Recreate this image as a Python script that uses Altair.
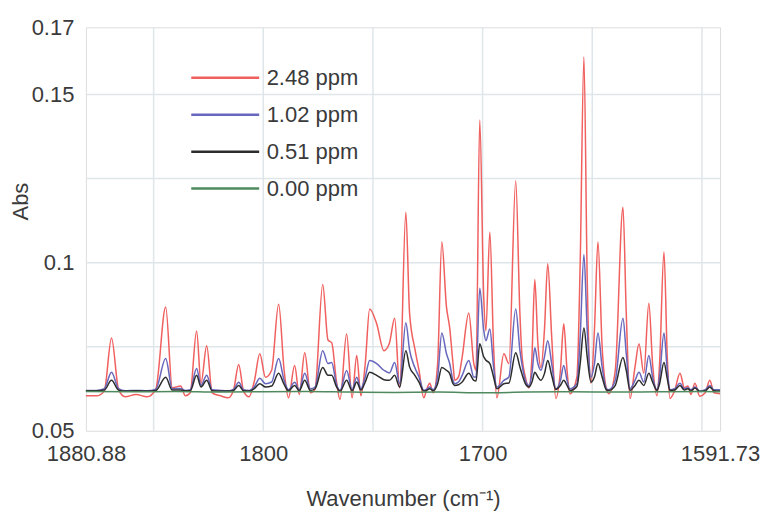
import altair as alt
import pandas as pd

# Wavenumber (cm-1) vertices, left (high) to right (low)
wavenumber = [
    1880.88, 1876.0, 1872.5, 1869.2, 1866.0, 1863.0, 1858.0, 1853.0, 1849.0, 1844.5,
    1841.5, 1837.7, 1835.5, 1833.3, 1830.4, 1828.4, 1825.8, 1823.3, 1819.5, 1816.0,
    1813.5, 1811.2, 1809.0, 1806.5, 1804.0, 1801.6, 1799.0, 1796.2, 1793.0, 1790.5,
    1788.5, 1785.7, 1783.6, 1781.1, 1778.5, 1776.4, 1772.9, 1770.5, 1768.8, 1766.7,
    1765.0, 1762.0, 1759.5, 1757.4, 1755.5, 1753.5, 1751.5, 1748.3, 1745.0, 1742.5,
    1740.1, 1737.8, 1735.0, 1733.3, 1730.9, 1729.0, 1726.8, 1725.5, 1724.1, 1722.5,
    1720.5, 1718.6, 1716.5, 1715.0, 1713.5, 1712.7, 1711.0, 1709.3, 1706.3, 1704.0,
    1703.0, 1701.3, 1699.5, 1698.5, 1696.7, 1695.0, 1693.5, 1690.3, 1688.0, 1684.9,
    1683.0, 1682.1, 1680.5, 1678.9, 1677.5, 1676.2, 1674.8, 1673.4, 1671.8, 1670.3,
    1668.5, 1666.6, 1664.5, 1663.0, 1661.5, 1660.2, 1657.0, 1655.5, 1653.8, 1652.3,
    1650.6, 1649.0, 1647.4, 1645.5, 1643.5, 1642.4, 1639.5, 1636.0, 1634.5, 1632.8,
    1630.5, 1628.7, 1626.5, 1624.2, 1622.5, 1620.5, 1619.3, 1617.3, 1615.8, 1614.6,
    1612.5, 1610.0, 1608.0, 1606.4, 1605.0, 1603.2, 1601.0, 1598.5, 1596.4, 1594.5,
    1591.73,
]

abs_248 = [
    0.0604, 0.0604, 0.0618, 0.0776, 0.0623, 0.0601, 0.0608, 0.0601, 0.0624, 0.0868,
    0.0628, 0.0633, 0.0604, 0.0613, 0.0797, 0.0641, 0.0753, 0.0613, 0.0604, 0.0598,
    0.0623, 0.0697, 0.0618, 0.0601, 0.0650, 0.0729, 0.0659, 0.0680, 0.0876, 0.0680,
    0.0598, 0.0694, 0.0608, 0.0732, 0.0613, 0.0624, 0.0935, 0.0770, 0.0762, 0.0650,
    0.0593, 0.0788, 0.0598, 0.0724, 0.0604, 0.0700, 0.0862, 0.0818, 0.0738, 0.0760,
    0.0835, 0.0627, 0.1150, 0.0850, 0.0744, 0.0680, 0.0598, 0.0623, 0.0641, 0.0613,
    0.0700, 0.1062, 0.0870, 0.0806, 0.0700, 0.0650, 0.0660, 0.0720, 0.0850, 0.0700,
    0.0680, 0.1424, 0.0900, 0.0797, 0.1091, 0.0750, 0.0598, 0.0729, 0.0700, 0.1244,
    0.0850, 0.0729, 0.0660, 0.0627, 0.0720, 0.0950, 0.0760, 0.0688, 0.0800, 0.0997,
    0.0780, 0.0596, 0.0680, 0.0818, 0.0680, 0.0610, 0.0660, 0.1000, 0.1612, 0.0950,
    0.0641, 0.0800, 0.1062, 0.0750, 0.0623, 0.0610, 0.0680, 0.1165, 0.0850, 0.0596,
    0.0690, 0.0759, 0.0671, 0.0879, 0.0700, 0.0604, 0.0700, 0.1032, 0.0720, 0.0596,
    0.0618, 0.0671, 0.0628, 0.0633, 0.0608, 0.0641, 0.0603, 0.0613, 0.0650, 0.0613,
    0.0610,
]

abs_102 = [
    0.0620, 0.0620, 0.0625, 0.0674, 0.0625, 0.0619, 0.0620, 0.0619, 0.0624, 0.0715,
    0.0625, 0.0626, 0.0620, 0.0622, 0.0685, 0.0635, 0.0665, 0.0622, 0.0620, 0.0619,
    0.0624, 0.0644, 0.0622, 0.0620, 0.0632, 0.0656, 0.0640, 0.0645, 0.0715, 0.0650,
    0.0622, 0.0644, 0.0622, 0.0671, 0.0625, 0.0630, 0.0738, 0.0700, 0.0703, 0.0640,
    0.0620, 0.0679, 0.0622, 0.0659, 0.0625, 0.0660, 0.0709, 0.0700, 0.0680, 0.0672,
    0.0703, 0.0640, 0.0821, 0.0740, 0.0688, 0.0660, 0.0620, 0.0624, 0.0630, 0.0622,
    0.0660, 0.0791, 0.0730, 0.0700, 0.0650, 0.0640, 0.0645, 0.0665, 0.0709, 0.0660,
    0.0660, 0.0924, 0.0800, 0.0768, 0.0803, 0.0690, 0.0630, 0.0650, 0.0660, 0.0862,
    0.0740, 0.0700, 0.0650, 0.0635, 0.0670, 0.0747, 0.0700, 0.0680, 0.0720, 0.0768,
    0.0700, 0.0625, 0.0650, 0.0694, 0.0650, 0.0625, 0.0640, 0.0780, 0.1024, 0.0800,
    0.0659, 0.0700, 0.0791, 0.0690, 0.0625, 0.0622, 0.0650, 0.0835, 0.0730, 0.0625,
    0.0650, 0.0674, 0.0645, 0.0724, 0.0660, 0.0622, 0.0660, 0.0791, 0.0680, 0.0622,
    0.0625, 0.0641, 0.0625, 0.0628, 0.0622, 0.0630, 0.0618, 0.0622, 0.0635, 0.0622,
    0.0622,
]

abs_051 = [
    0.0619, 0.0619, 0.0621, 0.0650, 0.0621, 0.0618, 0.0619, 0.0618, 0.0620, 0.0659,
    0.0621, 0.0621, 0.0619, 0.0619, 0.0665, 0.0630, 0.0650, 0.0619, 0.0618, 0.0618,
    0.0620, 0.0635, 0.0619, 0.0618, 0.0626, 0.0640, 0.0630, 0.0633, 0.0671, 0.0638,
    0.0619, 0.0635, 0.0619, 0.0650, 0.0620, 0.0625, 0.0688, 0.0665, 0.0665, 0.0632,
    0.0618, 0.0650, 0.0619, 0.0645, 0.0621, 0.0645, 0.0674, 0.0665, 0.0652, 0.0650,
    0.0665, 0.0630, 0.0738, 0.0690, 0.0665, 0.0645, 0.0618, 0.0620, 0.0625, 0.0619,
    0.0640, 0.0688, 0.0680, 0.0670, 0.0640, 0.0635, 0.0637, 0.0645, 0.0671, 0.0650,
    0.0648, 0.0759, 0.0720, 0.0710, 0.0700, 0.0660, 0.0625, 0.0640, 0.0642, 0.0732,
    0.0690, 0.0670, 0.0640, 0.0630, 0.0645, 0.0674, 0.0660, 0.0650, 0.0670, 0.0709,
    0.0665, 0.0623, 0.0635, 0.0650, 0.0635, 0.0620, 0.0632, 0.0700, 0.0806, 0.0720,
    0.0645, 0.0660, 0.0700, 0.0660, 0.0621, 0.0620, 0.0635, 0.0718, 0.0680, 0.0620,
    0.0635, 0.0650, 0.0635, 0.0671, 0.0645, 0.0620, 0.0640, 0.0703, 0.0655, 0.0620,
    0.0621, 0.0635, 0.0621, 0.0625, 0.0619, 0.0627, 0.0617, 0.0619, 0.0630, 0.0619,
    0.0618,
]

green_wavenumber = [1880.88, 1860.0, 1840.0, 1820.0, 1800.0, 1780.0, 1760.0, 1740.0,
                    1720.0, 1700.0, 1680.0, 1660.0, 1640.0, 1620.0, 1600.0, 1591.73]
abs_000 = [0.0617, 0.0616, 0.0617, 0.0615, 0.0616, 0.0617, 0.0615, 0.0614,
           0.0615, 0.0613, 0.0615, 0.0616, 0.0615, 0.0616, 0.0617, 0.0616]

series = ["2.48 ppm", "1.02 ppm", "0.51 ppm", "0.00 ppm"]
colors = ["#f0605f", "#6767bd", "#2c2c2c", "#4e8a5d"]

x_ticks = [1880.88, 1800, 1700, 1591.73]
y_ticks = [0.05, 0.1, 0.15, 0.17]
x_grid = [1850, 1800, 1750, 1700, 1650, 1600]
y_grid = [0.075, 0.1, 0.125, 0.15]

frames = [
    pd.DataFrame({"wn": wavenumber, "abs": abs_248, "series": series[0]}),
    pd.DataFrame({"wn": wavenumber, "abs": abs_102, "series": series[1]}),
    pd.DataFrame({"wn": wavenumber, "abs": abs_051, "series": series[2]}),
    pd.DataFrame({"wn": green_wavenumber, "abs": abs_000, "series": series[3]}),
]
df = pd.concat(frames, ignore_index=True)

FONT = "Liberation Sans"
TXT = "#3a3a3a"
xscale = alt.Scale(domain=[1591.73, 1880.88], reverse=True, nice=False, zero=False)
yscale = alt.Scale(domain=[0.05, 0.17], nice=False, zero=False)

x_axis = alt.Axis(values=x_ticks, labelExpr="datum.value + ''",
                  title="Wavenumber (cm⁻¹)",
                  grid=False, ticks=False, domain=False,
                  labelFontSize=22, labelColor=TXT, labelFont=FONT,
                  labelPadding=13, labelOverlap=False, labelBound=False,
                  labelFlush=False,
                  titleFont=FONT, titleFontSize=22, titleFontWeight="normal",
                  titleColor=TXT, titleY=68, titleBaseline="middle")
y_axis = alt.Axis(values=y_ticks, labelExpr="datum.value + ''", title="Abs",
                  grid=False, ticks=False, domain=False,
                  labelFontSize=22, labelColor=TXT, labelFont=FONT,
                  labelPadding=12, labelOverlap=False, labelBound=False,
                  labelFlush=False,
                  titleFont=FONT, titleFontSize=22, titleFontWeight="normal",
                  titleColor=TXT, titleX=-53, titleY=174)

xgrid = alt.Chart(pd.DataFrame({"g": x_grid})).mark_rule(
    color="#dfe6ea", strokeWidth=1.5
).encode(x=alt.X("g:Q", scale=xscale, axis=x_axis))

ygrid = alt.Chart(pd.DataFrame({"g": y_grid})).mark_rule(
    color="#dfe6ea", strokeWidth=1.5
).encode(y=alt.Y("g:Q", scale=yscale, axis=y_axis))

lines = alt.Chart(df).mark_line(strokeWidth=1.5, interpolate="monotone").encode(
    x=alt.X("wn:Q", scale=xscale, axis=x_axis),
    y=alt.Y("abs:Q", scale=yscale, axis=y_axis),
    color=alt.Color("series:N", scale=alt.Scale(domain=series, range=colors),
                    sort=series,
                    legend=alt.Legend(orient="none", legendX=104, legendY=32,
                                      title=None, symbolType="stroke",
                                      symbolSize=4624, symbolStrokeWidth=2.5,
                                      clipHeight=37, rowPadding=0,
                                      labelFontSize=22, labelFont=FONT,
                                      labelColor=TXT, labelOffset=6,
                                      padding=0)),
    detail="series:N",
)

chart = alt.layer(xgrid, ygrid, lines).properties(
    width=635, height=404,
    autosize=alt.AutoSizeParams(type="none"),
    padding={"left": 78, "top": 19, "right": 40, "bottom": 84},
).configure_view(stroke="#a9a9a9", strokeWidth=2).configure(background="white")

chart.save("out.html", embed_options={"renderer": "svg", "actions": False})
